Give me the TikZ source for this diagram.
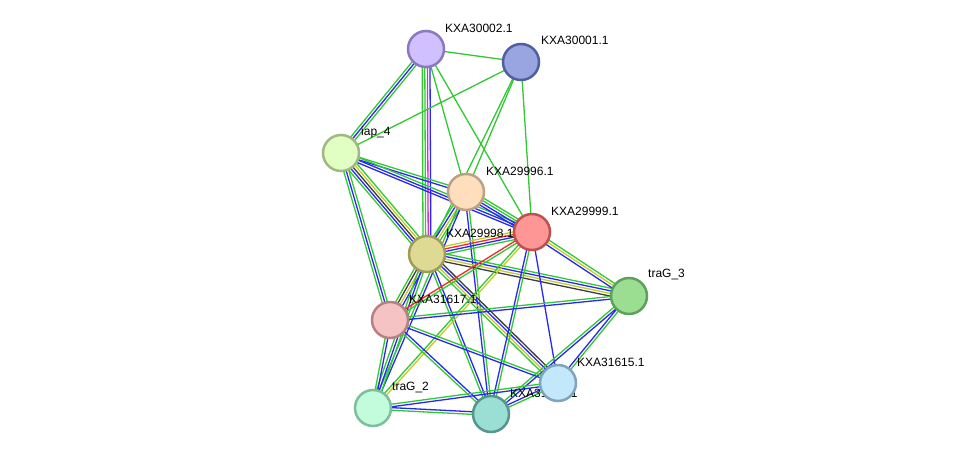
\documentclass[tikz,border=0pt]{standalone}
\usepackage{fontspec}
\setmainfont{Liberation Sans}
\usetikzlibrary{calc,backgrounds}

% evidence colours
\definecolor{evgreen}{RGB}{50,200,50}
\definecolor{evblue}{RGB}{40,40,245}
\definecolor{evyellow}{RGB}{195,205,40}
\definecolor{evblack}{RGB}{60,60,60}
\definecolor{evred}{RGB}{245,40,40}
\definecolor{evpink}{RGB}{220,40,220}

\tikzset{
  prot/.style={circle, minimum size=36pt, inner sep=0pt, line width=2.5pt},
  plabel/.style={font=\fontsize{12}{14}\selectfont, anchor=west, inner sep=1pt},
  evline/.style={line width=1.3pt}
}

% one link = several thin parallel lines, one per colour
\newcommand{\lnk}[3]{%
  \foreach \c [count=\k] in {#3} {\xdef\nlines{\k}}%
  \foreach \c [count=\k] in {#3} {%
    \pgfmathsetmacro\off{(\k-(\nlines+1)/2)*2.6}%
    \draw[evline, \c] ($(#1)!\off pt!90:(#2)$) -- ($(#2)!\off pt!-90:(#1)$);}%
}

\begin{document}
\begin{tikzpicture}[x=1pt, y=-1pt]
    \useasboundingbox (0,0) rectangle (975,460);

    % proteins
    \node[prot, fill={rgb,255:red,208;green,192;blue,255}, draw={rgb,255:red,140;green,120;blue,190}] (p30002) at (426,49) {};
    \node[plabel] at (444,28) {KXA30002.1};
    \node[prot, fill={rgb,255:red,152;green,165;blue,225}, draw={rgb,255:red,80;green,95;blue,160}] (p30001) at (521,62) {};
    \node[plabel] at (540,40) {KXA30001.1};
    \node[prot, fill={rgb,255:red,225;green,255;blue,195}, draw={rgb,255:red,160;green,185;blue,130}] (iap4) at (341,153) {};
    \node[plabel] at (360,132) {iap\_4};
    \node[prot, fill={rgb,255:red,255;green,222;blue,190}, draw={rgb,255:red,190;green,160;blue,130}] (p29996) at (466,192) {};
    \node[plabel] at (485,171) {KXA29996.1};
    \node[prot, fill={rgb,255:red,255;green,150;blue,150}, draw={rgb,255:red,190;green,80;blue,80}] (p29999) at (532,232) {};
    \node[plabel] at (550,211) {KXA29999.1};
    \node[prot, fill={rgb,255:red,222;green,218;blue,148}, draw={rgb,255:red,160;green,155;blue,90}] (p29998) at (427,254) {};
    \node[plabel] at (445,233) {KXA29998.1};
    \node[prot, fill={rgb,255:red,155;green,222;blue,145}, draw={rgb,255:red,95;green,160;blue,90}] (traG3) at (629,296) {};
    \node[plabel] at (647,275) {traG\_3};
    \node[prot, fill={rgb,255:red,245;green,195;blue,195}, draw={rgb,255:red,180;green,130;blue,130}] (p31617) at (390,320) {};
    \node[plabel] at (408,299) {KXA31617.1};
    \node[prot, fill={rgb,255:red,195;green,252;blue,220}, draw={rgb,255:red,125;green,190;blue,155}] (traG2) at (373,408) {};
    \node[plabel] at (391,387) {traG\_2};
    \node[prot, fill={rgb,255:red,155;green,222;blue,212}, draw={rgb,255:red,85;green,150;blue,140}] (p31616) at (491,414) {};
    \node[plabel] at (509,393) {KXA31616.1};
    \node[prot, fill={rgb,255:red,195;green,232;blue,252}, draw={rgb,255:red,125;green,165;blue,190}] (p31615) at (558,383) {};
    \node[plabel] at (576,362) {KXA31615.1};

    % links
    \begin{pgfonlayer}{background}
    \lnk{p30002}{p30001}{evgreen}
    \lnk{p30002}{iap4}{evgreen,evblue,evgreen}
    \lnk{p30002}{p29998}{evgreen,evgreen,evpink,evblue}
    \lnk{p30002}{p29996}{evgreen}
    \lnk{p30002}{p29999}{evgreen}
    \lnk{p30001}{iap4}{evgreen}
    \lnk{p30001}{p29996}{evgreen}
    \lnk{p30001}{p29998}{evgreen}
    \lnk{p30001}{p29999}{evgreen}
    \lnk{iap4}{p29996}{evblue,evgreen}
    \lnk{iap4}{p29999}{evblue,evblue,evgreen}
    \lnk{iap4}{p29998}{evgreen,evblue,evblack,evyellow,evgreen}
    \lnk{iap4}{p31617}{evgreen,evblue,evgreen}
    \lnk{p29996}{p29999}{evblue,evblue,evgreen,evgreen}
    \lnk{p29996}{p29998}{evgreen,evblue,evyellow,evgreen}
    \lnk{p29996}{p31616}{evblue,evgreen}
    \lnk{p29996}{traG2}{evgreen,evblue}
    \lnk{p29998}{p29999}{evgreen,evblue,evred,evyellow}
    \lnk{p29998}{traG3}{evblack,evyellow,evblue,evgreen}
    \lnk{p29998}{p31617}{evgreen,evblack,evyellow,evblue}
    \lnk{p29998}{traG2}{evgreen,evblue,evgreen}
    \lnk{p29998}{p31616}{evgreen,evblue}
    \lnk{p29998}{p31615}{evgreen,evyellow,evblue,evblack}
    \lnk{p29999}{traG3}{evblue,evyellow,evgreen}
    \lnk{p29999}{p31617}{evred,evgreen}
    \lnk{p29999}{traG2}{evgreen,evyellow}
    \lnk{p29999}{p31616}{evblue,evgreen}
    \lnk{p29999}{p31615}{evblue}
    \lnk{traG3}{p31617}{evgreen,evblue}
    \lnk{traG3}{p31615}{evblue,evgreen}
    \lnk{traG3}{p31616}{evgreen,evblue}
    \lnk{p31617}{traG2}{evgreen,evblue}
    \lnk{p31617}{p31616}{evgreen,evblue}
    \lnk{p31617}{p31615}{evblue,evgreen}
    \lnk{traG2}{p31616}{evgreen,evblue}
    \lnk{traG2}{p31615}{evblue,evgreen}
    \lnk{p31616}{p31615}{evgreen,evblue}
    \end{pgfonlayer}
\end{tikzpicture}
\end{document}
